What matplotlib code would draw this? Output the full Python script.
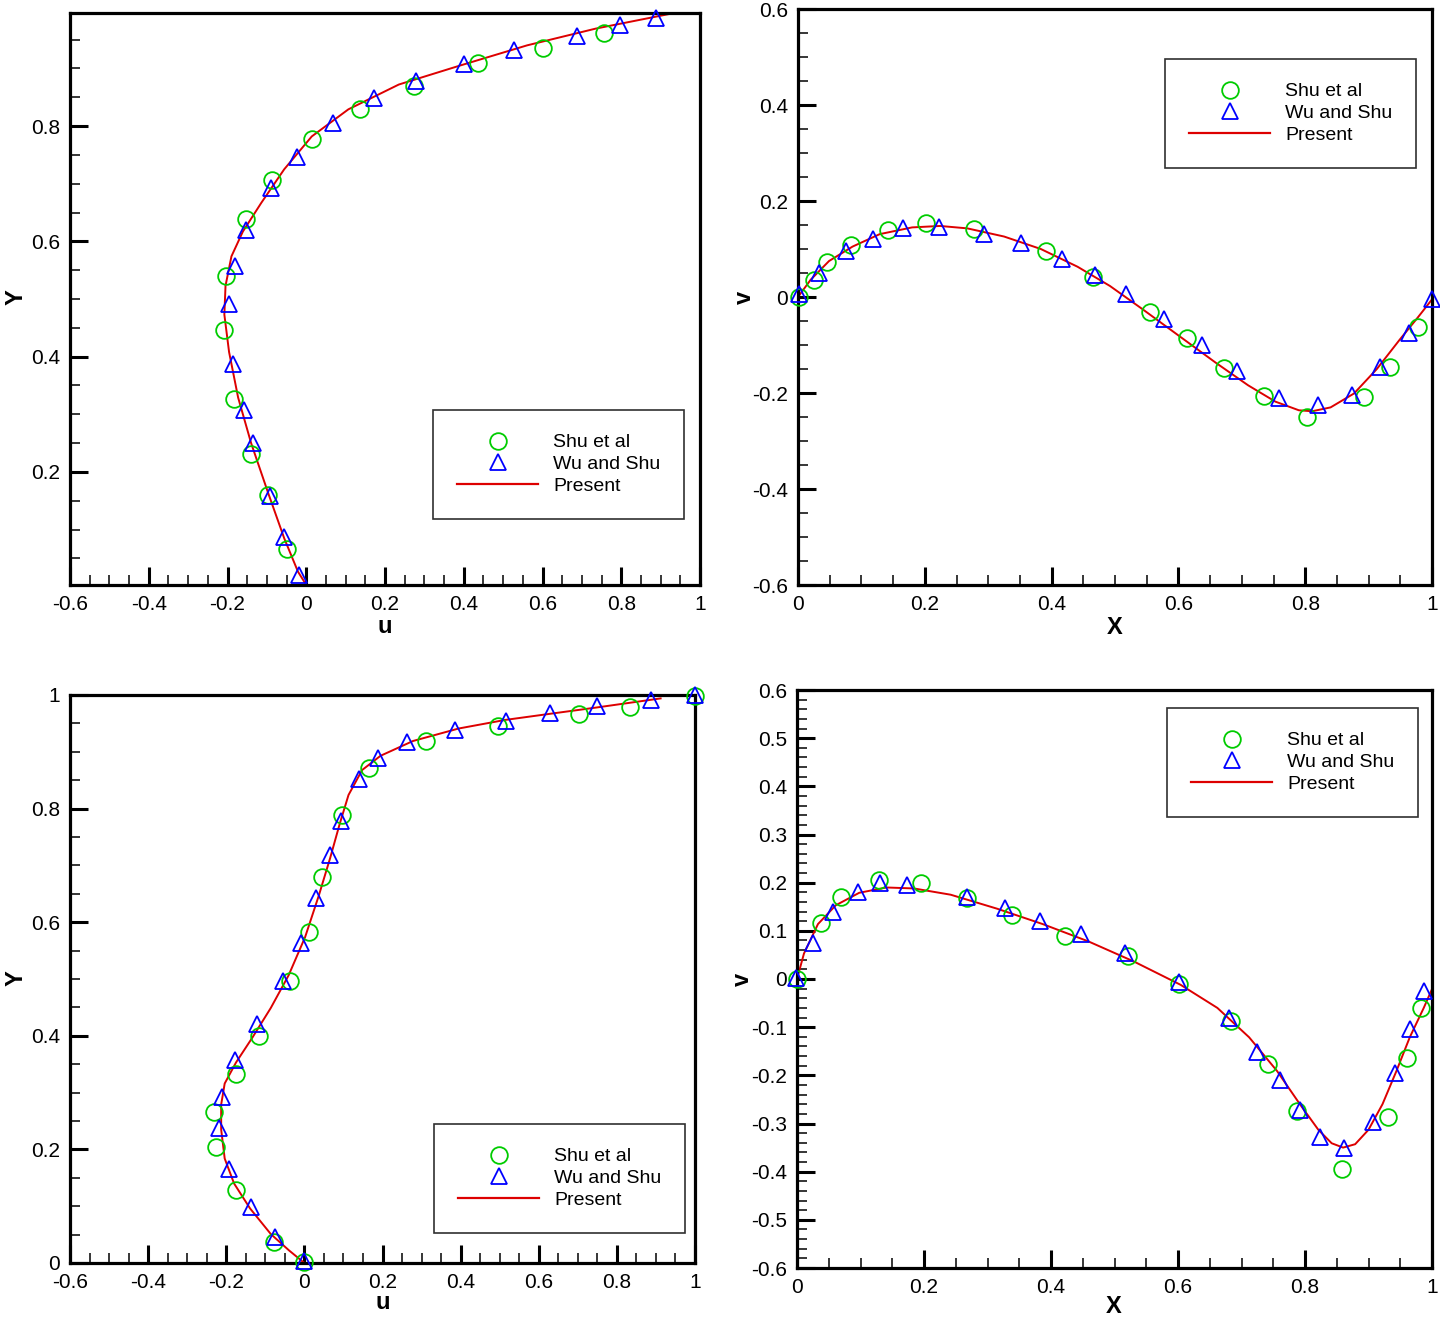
import matplotlib
matplotlib.use('Agg')
import matplotlib.pyplot as plt
from matplotlib.ticker import MultipleLocator, FuncFormatter
from matplotlib.lines import Line2D

plt.rcParams['font.family'] = ['Liberation Sans', 'DejaVu Sans']
plt.rcParams['axes.unicode_minus'] = False

legend_labels = ['Shu et al', 'Wu and Shu', 'Present']

# ---------------- Panel 1 (top-left): u vs Y ----------------
p1_shu_u = [-0.048, -0.097, -0.141, -0.184, -0.210, -0.204, -0.152, -0.087, 0.014, 0.136, 0.273, 0.435, 0.600, 0.757]
p1_shu_y = [0.067, 0.160, 0.232, 0.327, 0.446, 0.540, 0.638, 0.707, 0.778, 0.829, 0.870, 0.910, 0.935, 0.962]
p1_wu_u = [-0.019, -0.056, -0.091, -0.136, -0.159, -0.187, -0.197, -0.180, -0.152, -0.090, -0.024, 0.068, 0.173, 0.279, 0.400, 0.527, 0.688, 0.797, 0.888]
p1_wu_y = [0.022, 0.087, 0.158, 0.250, 0.307, 0.388, 0.491, 0.558, 0.619, 0.693, 0.747, 0.806, 0.849, 0.878, 0.908, 0.932, 0.957, 0.975, 0.987]
p1_pres_u = [0.0, -0.021, -0.056, -0.097, -0.140, -0.173, -0.196, -0.208, -0.205, -0.190, -0.161, -0.114, -0.056, 0.014, 0.107, 0.235, 0.386, 0.561, 0.735, 0.934]
p1_pres_y = [0.004, 0.027, 0.085, 0.164, 0.250, 0.329, 0.408, 0.473, 0.523, 0.574, 0.617, 0.667, 0.725, 0.782, 0.829, 0.872, 0.904, 0.940, 0.969, 0.996]

# ---------------- Panel 2 (top-right): X vs v ----------------
p2_shu_x = [0.002, 0.025, 0.046, 0.083, 0.142, 0.202, 0.278, 0.391, 0.466, 0.555, 0.613, 0.672, 0.735, 0.803, 0.892, 0.934, 0.978]
p2_shu_v = [0.0, 0.036, 0.073, 0.109, 0.140, 0.155, 0.142, 0.095, 0.042, -0.031, -0.086, -0.147, -0.206, -0.250, -0.208, -0.145, -0.063]
p2_wu_x = [0.002, 0.033, 0.076, 0.118, 0.165, 0.223, 0.293, 0.351, 0.416, 0.468, 0.517, 0.578, 0.638, 0.693, 0.759, 0.820, 0.874, 0.918, 0.964, 1.000]
p2_wu_v = [0.006, 0.049, 0.096, 0.120, 0.143, 0.145, 0.132, 0.112, 0.079, 0.045, 0.006, -0.045, -0.101, -0.154, -0.211, -0.226, -0.204, -0.145, -0.074, -0.005]
p2_pres_x = [0.0, 0.020, 0.049, 0.086, 0.129, 0.180, 0.224, 0.267, 0.325, 0.383, 0.441, 0.492, 0.543, 0.601, 0.659, 0.710, 0.753, 0.790, 0.811, 0.840, 0.877, 0.913, 0.949, 0.978, 1.000]
p2_pres_v = [0.0, 0.036, 0.075, 0.105, 0.131, 0.145, 0.148, 0.143, 0.126, 0.100, 0.063, 0.023, -0.025, -0.081, -0.137, -0.184, -0.218, -0.236, -0.238, -0.230, -0.201, -0.150, -0.089, -0.042, -0.005]

# ---------------- Panel 3 (bottom-left): u vs Y ----------------
p3_shu_u = [0.0, -0.078, -0.175, -0.227, -0.232, -0.176, -0.116, -0.038, 0.012, 0.046, 0.097, 0.166, 0.311, 0.495, 0.703, 0.834, 1.0]
p3_shu_y = [0.001, 0.037, 0.129, 0.204, 0.265, 0.333, 0.399, 0.497, 0.582, 0.680, 0.789, 0.871, 0.919, 0.945, 0.966, 0.978, 0.999]
p3_wu_u = [0.0, -0.075, -0.136, -0.192, -0.219, -0.212, -0.178, -0.121, -0.056, -0.009, 0.030, 0.065, 0.093, 0.139, 0.188, 0.262, 0.385, 0.517, 0.630, 0.750, 0.887, 1.0]
p3_wu_y = [0.004, 0.046, 0.099, 0.165, 0.237, 0.292, 0.357, 0.421, 0.496, 0.564, 0.642, 0.719, 0.779, 0.852, 0.889, 0.917, 0.939, 0.955, 0.968, 0.980, 0.991, 1.0]
p3_pres_u = [0.0, -0.039, -0.086, -0.139, -0.180, -0.204, -0.213, -0.213, -0.204, -0.175, -0.133, -0.086, -0.040, 0.002, 0.037, 0.066, 0.090, 0.113, 0.148, 0.195, 0.278, 0.395, 0.513, 0.630, 0.748, 0.912]
p3_pres_y = [0.0, 0.022, 0.051, 0.096, 0.140, 0.184, 0.235, 0.279, 0.316, 0.353, 0.397, 0.449, 0.507, 0.574, 0.647, 0.713, 0.772, 0.824, 0.868, 0.893, 0.919, 0.941, 0.956, 0.967, 0.978, 0.994]

# ---------------- Panel 4 (bottom-right): X vs v ----------------
p4_shu_x = [0.0, 0.038, 0.070, 0.129, 0.195, 0.268, 0.339, 0.422, 0.521, 0.602, 0.683, 0.741, 0.787, 0.858, 0.930, 0.960, 0.982]
p4_shu_v = [0.001, 0.117, 0.170, 0.206, 0.200, 0.168, 0.133, 0.090, 0.047, -0.010, -0.088, -0.176, -0.275, -0.394, -0.287, -0.163, -0.060]
p4_wu_x = [-0.001, 0.025, 0.056, 0.096, 0.130, 0.174, 0.268, 0.328, 0.383, 0.447, 0.516, 0.602, 0.681, 0.725, 0.760, 0.792, 0.824, 0.861, 0.907, 0.941, 0.965, 0.987]
p4_wu_v = [0.003, 0.074, 0.140, 0.181, 0.199, 0.195, 0.171, 0.147, 0.121, 0.093, 0.053, -0.006, -0.082, -0.152, -0.210, -0.271, -0.327, -0.351, -0.297, -0.196, -0.104, -0.025]
p4_pres_x = [0.0, 0.011, 0.033, 0.061, 0.098, 0.141, 0.184, 0.242, 0.315, 0.387, 0.459, 0.531, 0.604, 0.662, 0.712, 0.756, 0.792, 0.821, 0.842, 0.860, 0.879, 0.900, 0.922, 0.944, 0.965, 0.987, 1.0]
p4_pres_v = [0.0, 0.053, 0.114, 0.153, 0.179, 0.190, 0.188, 0.175, 0.146, 0.114, 0.078, 0.036, -0.012, -0.060, -0.121, -0.191, -0.260, -0.313, -0.341, -0.350, -0.343, -0.313, -0.260, -0.191, -0.121, -0.060, -0.021]

GREEN = '#00cc00'
BLUE = '#0000ff'
RED = '#dd0000'

W, H = 1440, 1318
fig = plt.figure(figsize=(W / 100, H / 100), dpi=100)


def make_axes(l, t, r, b):
    return fig.add_axes([l / W, 1 - b / H, (r - l) / W, (b - t) / H])


def fmt(v, pos):
    v = round(v, 6)
    if abs(v) < 1e-9:
        return '0'
    return f'{v:g}'


def style(ax, xlim, ylim, xmaj, xmin, ymaj, ymin):
    ax.set_xlim(*xlim)
    ax.set_ylim(*ylim)
    ax.xaxis.set_major_locator(MultipleLocator(xmaj))
    ax.xaxis.set_minor_locator(MultipleLocator(xmin))
    ax.yaxis.set_major_locator(MultipleLocator(ymaj))
    ax.yaxis.set_minor_locator(MultipleLocator(ymin))
    ax.xaxis.set_major_formatter(FuncFormatter(fmt))
    ax.yaxis.set_major_formatter(FuncFormatter(fmt))
    ax.tick_params(which='both', direction='in', top=False, right=False, labelsize=15)
    ax.tick_params(which='major', length=13, width=2.2, pad=7)
    ax.tick_params(which='minor', length=7, width=1.1)
    for s in ax.spines.values():
        s.set_linewidth(2.3)


def draw(ax, sx, sy, wx, wy, px, py):
    ax.plot(px, py, color=RED, lw=1.4, zorder=2)
    ax.plot(sx, sy, ls='none', marker='o', ms=12, mfc='none', mec=GREEN, mew=1.3, clip_on=False, zorder=3)
    ax.plot(wx, wy, ls='none', marker='^', ms=11, mfc='none', mec=BLUE, mew=1.3, clip_on=False, zorder=4)


def legend(ax, l, t):
    handles = [
        Line2D([], [], ls='none', marker='o', ms=12, mfc='none', mec=GREEN, mew=1.3),
        Line2D([], [], ls='none', marker='^', ms=11, mfc='none', mec=BLUE, mew=1.3),
        Line2D([], [], color=RED, lw=1.6),
    ]
    leg = ax.legend(handles, legend_labels, loc='upper left', bbox_to_anchor=(l / W, 1 - t / H),
                    bbox_transform=fig.transFigure, borderaxespad=0, frameon=True, fancybox=False,
                    edgecolor='#303030', framealpha=1, fontsize=14, handlelength=4.2,
                    handletextpad=0.75, labelspacing=0.22, borderpad=1.22)
    leg.get_frame().set_linewidth(1.2)


def labels(ax, xl, yl, xpos, ypos):
    ax.set_xlabel(xl, fontsize=17, fontweight='bold')
    ax.set_ylabel(yl, fontsize=17, fontweight='bold')
    ax.xaxis.set_label_coords(*xpos)
    ax.yaxis.set_label_coords(*ypos)
    ax.xaxis.label.set_verticalalignment('center')
    ax.yaxis.label.set_verticalalignment('center')


ax1 = make_axes(70, 13, 700, 585)
style(ax1, (-0.6, 1.0), (0.0039, 0.9961), 0.2, 0.05, 0.2, 0.05)
draw(ax1, p1_shu_u, p1_shu_y, p1_wu_u, p1_wu_y, p1_pres_u, p1_pres_y)
legend(ax1, 433, 410)
labels(ax1, 'u', 'Y', (0.5, -0.073), (-0.086, 0.503))

ax2 = make_axes(798, 9, 1432, 585)
style(ax2, (0.0, 1.0), (-0.6, 0.6), 0.2, 0.05, 0.2, 0.05)
draw(ax2, p2_shu_x, p2_shu_v, p2_wu_x, p2_wu_v, p2_pres_x, p2_pres_v)
legend(ax2, 1165, 59)
labels(ax2, 'X', 'v', (0.5, -0.073), (-0.084, 0.5))

ax3 = make_axes(70, 695, 695, 1263)
style(ax3, (-0.6, 1.0), (0.0, 1.0), 0.2, 0.05, 0.2, 0.05)
draw(ax3, p3_shu_u, p3_shu_y, p3_wu_u, p3_wu_y, p3_pres_u, p3_pres_y)
legend(ax3, 434, 1124)
labels(ax3, 'u', 'Y', (0.5, -0.070), (-0.087, 0.502))

ax4 = make_axes(797, 690, 1432, 1268)
style(ax4, (0.0, 1.0), (-0.6, 0.6), 0.2, 0.05, 0.1, 0.02)
draw(ax4, p4_shu_x, p4_shu_v, p4_wu_x, p4_wu_v, p4_pres_x, p4_pres_v)
legend(ax4, 1167, 708)
labels(ax4, 'X', 'v', (0.498, -0.066), (-0.086, 0.5))

fig.savefig('out.png', dpi=100, facecolor='white')
